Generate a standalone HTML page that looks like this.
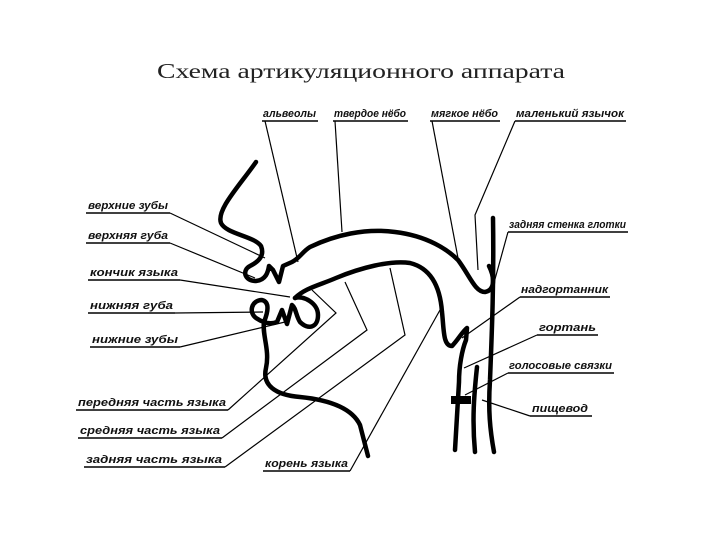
<!DOCTYPE html>
<html><head><meta charset="utf-8"><style>
html,body{margin:0;padding:0;background:#fff;width:720px;height:540px;overflow:hidden}
svg{display:block}
.l{font-family:"Liberation Sans",sans-serif;font-style:italic;font-weight:bold;font-size:11px;fill:#111}
</style></head><body>
<svg width="720" height="540" viewBox="0 0 720 540">
<text x="361" y="78" text-anchor="middle" font-family="Liberation Serif,serif" font-size="21" fill="#222" textLength="408" lengthAdjust="spacingAndGlyphs">Схема артикуляционного аппарата</text>
<g fill="none" stroke="#000" stroke-width="4.5" stroke-linecap="round" stroke-linejoin="round">
<path d="M256,162 C240,185 216,210 221,223 C226,234 254,236 261,246 C265,256 258,262 250,266 C242,270 244,281 256,281 C266,280 268,272 269,266 L273,270 L279,282 L283,266 L292,262 C300,258 302,252 310,247 C335,235 365,228 395,232 C428,236 448,250 458,260 C470,276 475,292 485,292 C496,290 494,276 489,266"/>
<path d="M295,298 C305,288 320,285 336,278 C360,268 390,260 410,263 C430,268 440,285 442,312 C444,330 443,346 452,346 C458,340 462,332 467,328 L466,340 C462,350 459,366 459,382 L455,450"/>
<path d="M295,298 C303,295 318,303 318,315 C318,328 308,330 300,322 C296,316 296,308 292,305 L287,324 L282,310 L277,322 C270,325 262,322 256,318 C248,312 252,300 262,300 C270,302 268,312 264,322 C262,335 270,350 266,368 C262,385 275,395 300,397 C330,400 352,408 360,425 L368,456"/>
<path d="M493,218 C494,280 492,330 490,380 C488,410 490,430 494,452"/>
<path d="M477,367 C474,395 472,420 475,452"/>
</g>
<rect x="451" y="396" width="20" height="8" fill="#000"/>
<g fill="none" stroke="#000" stroke-width="1.2">
<path d="M170,213 L265,258"/><path d="M170,243 L255,278"/><path d="M180,280 L290,297"/>
<path d="M175,313 L263,312"/><path d="M180,347 L285,322"/>
<path d="M228,410 L336,313 L312,290"/><path d="M222,438 L367,330 L345,282"/><path d="M225,467 L405,335 L390,268"/>
<path d="M350,471 L440,310"/>
<path d="M265,121 L298,262"/><path d="M335,121 L342,232"/><path d="M432,121 L458,258"/><path d="M515,121 L475,215 L478,270"/>
<path d="M508,232 L492,290"/><path d="M520,297 L462,338"/><path d="M537,335 L464,368"/><path d="M508,373 L465,395"/><path d="M530,416 L482,400"/>
</g>
<g stroke="#000" stroke-width="1.5">
<line x1="86" y1="213" x2="170" y2="213"/><line x1="86" y1="243" x2="170" y2="243"/><line x1="88" y1="280" x2="180" y2="280"/>
<line x1="88" y1="313" x2="175" y2="313"/><line x1="90" y1="347" x2="180" y2="347"/>
<line x1="76" y1="410" x2="228" y2="410"/><line x1="78" y1="438" x2="222" y2="438"/><line x1="84" y1="467" x2="225" y2="467"/>
<line x1="263" y1="471" x2="350" y2="471"/>
<line x1="262" y1="121" x2="318" y2="121"/><line x1="333" y1="121" x2="408" y2="121"/><line x1="430" y1="121" x2="500" y2="121"/><line x1="515" y1="121" x2="626" y2="121"/>
<line x1="508" y1="232" x2="628" y2="232"/><line x1="520" y1="297" x2="610" y2="297"/><line x1="537" y1="335" x2="598" y2="335"/><line x1="508" y1="373" x2="614" y2="373"/><line x1="530" y1="416" x2="592" y2="416"/>
</g>
<g class="l" lengthAdjust="spacingAndGlyphs">
<text x="88" y="209" textLength="80" lengthAdjust="spacingAndGlyphs">верхние зубы</text>
<text x="88" y="239" textLength="80" lengthAdjust="spacingAndGlyphs">верхняя губа</text>
<text x="90" y="276" textLength="88" lengthAdjust="spacingAndGlyphs">кончик языка</text>
<text x="90" y="309" textLength="83" lengthAdjust="spacingAndGlyphs">нижняя губа</text>
<text x="92" y="343" textLength="86" lengthAdjust="spacingAndGlyphs">нижние зубы</text>
<text x="78" y="406" textLength="148" lengthAdjust="spacingAndGlyphs">передняя часть языка</text>
<text x="80" y="434" textLength="140" lengthAdjust="spacingAndGlyphs">средняя часть языка</text>
<text x="86" y="463" textLength="136" lengthAdjust="spacingAndGlyphs">задняя часть языка</text>
<text x="265" y="467" textLength="83" lengthAdjust="spacingAndGlyphs">корень языка</text>
<text x="263" y="117" textLength="53" lengthAdjust="spacingAndGlyphs">альвеолы</text>
<text x="334" y="117" textLength="72" lengthAdjust="spacingAndGlyphs">твердое нёбо</text>
<text x="431" y="117" textLength="67" lengthAdjust="spacingAndGlyphs">мягкое нёбо</text>
<text x="516" y="117" textLength="108" lengthAdjust="spacingAndGlyphs">маленький язычок</text>
<text x="509" y="228" textLength="117" lengthAdjust="spacingAndGlyphs">задняя стенка глотки</text>
<text x="521" y="293" textLength="87" lengthAdjust="spacingAndGlyphs">надгортанник</text>
<text x="539" y="331" textLength="57" lengthAdjust="spacingAndGlyphs">гортань</text>
<text x="509" y="369" textLength="103" lengthAdjust="spacingAndGlyphs">голосовые связки</text>
<text x="532" y="412" textLength="56" lengthAdjust="spacingAndGlyphs">пищевод</text>
</g>
</svg>
</body></html>
